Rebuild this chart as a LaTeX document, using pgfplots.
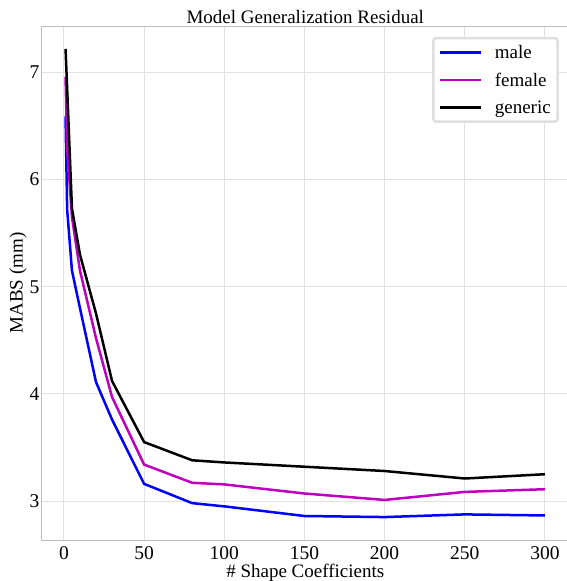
\documentclass[border=0pt]{standalone}
\usepackage{fontspec}
\setmainfont{Liberation Serif}
\usepackage{pgfplots}
\pgfplotsset{compat=1.18}
\definecolor{gridclr}{RGB}{226,226,226}
\definecolor{spineclr}{RGB}{188,188,188}
\definecolor{magclr}{RGB}{191,0,191}
\begin{document}
\begin{tikzpicture}
\begin{axis}[
  at={(0,0)}, anchor=south west,
  scale only axis,
  width=527.5pt, height=514pt,
  xmin=-14, xmax=315, ymin=2.636, ymax=7.434,
  xtick={0,50,100,150,200,250,300},
  ytick={3,4,5,6,7},
  major tick length=0pt,
  grid=major,
  grid style={gridclr, line width=1pt},
  axis line style={spineclr, line width=0.8pt},
  tick label style={font=\fontsize{19.5}{22}\selectfont},
  /pgf/number format/assume math mode=true,
  xticklabel style={yshift=-2pt},
  yticklabel style={xshift=2.5pt},
  title={Model Generalization Residual},
  title style={font=\fontsize{19}{22}\selectfont, at={(rel axis cs:0.5,1)}, anchor=base, yshift=-4pt, inner sep=0pt},
  xlabel={\# Shape Coefficients},
  ylabel={MABS (mm)},
  label style={font=\fontsize{19}{22}\selectfont},
  xlabel style={at={(rel axis cs:0.5,0)}, anchor=base, yshift=-37pt, inner sep=0pt},
  ylabel style={yshift=-5pt},
  legend cell align=left,
  legend style={at={(0.981,0.979)}, anchor=north east,
    draw=gray!25, rounded corners=3pt, fill=white,
    font=\fontsize{19}{22}\selectfont,
    inner xsep=5pt, inner ysep=5pt, row sep=9pt,
    /tikz/every odd column/.append style={column sep=11pt}},
  legend image code/.code={\draw[#1] (0pt,0pt) -- (41pt,0pt);},
  line width=2.5pt,
]
\addplot[blue, mark=none] coordinates {
  (1,6.59) (2,5.72) (5,5.15) (10,4.80) (20,4.11) (30,3.76) (50,3.16)
  (80,2.98) (100,2.95) (150,2.86) (200,2.85) (250,2.875) (300,2.865)};
\addplot[magclr, mark=none] coordinates {
  (1,6.96) (2,6.30) (5,5.65) (10,5.15) (20,4.52) (30,3.97) (50,3.34)
  (80,3.17) (100,3.155) (150,3.07) (200,3.01) (250,3.085) (300,3.11)};
\addplot[black, mark=none] coordinates {
  (1,7.22) (2,6.85) (5,5.73) (10,5.30) (20,4.75) (30,4.12) (50,3.55)
  (80,3.38) (100,3.36) (150,3.32) (200,3.28) (250,3.21) (300,3.25)};
\legend{male, female, generic}
\end{axis}
\pgfresetboundingbox
\path (-41.5pt,-41pt) rectangle (524.5pt,540pt);
\end{tikzpicture}
\end{document}
